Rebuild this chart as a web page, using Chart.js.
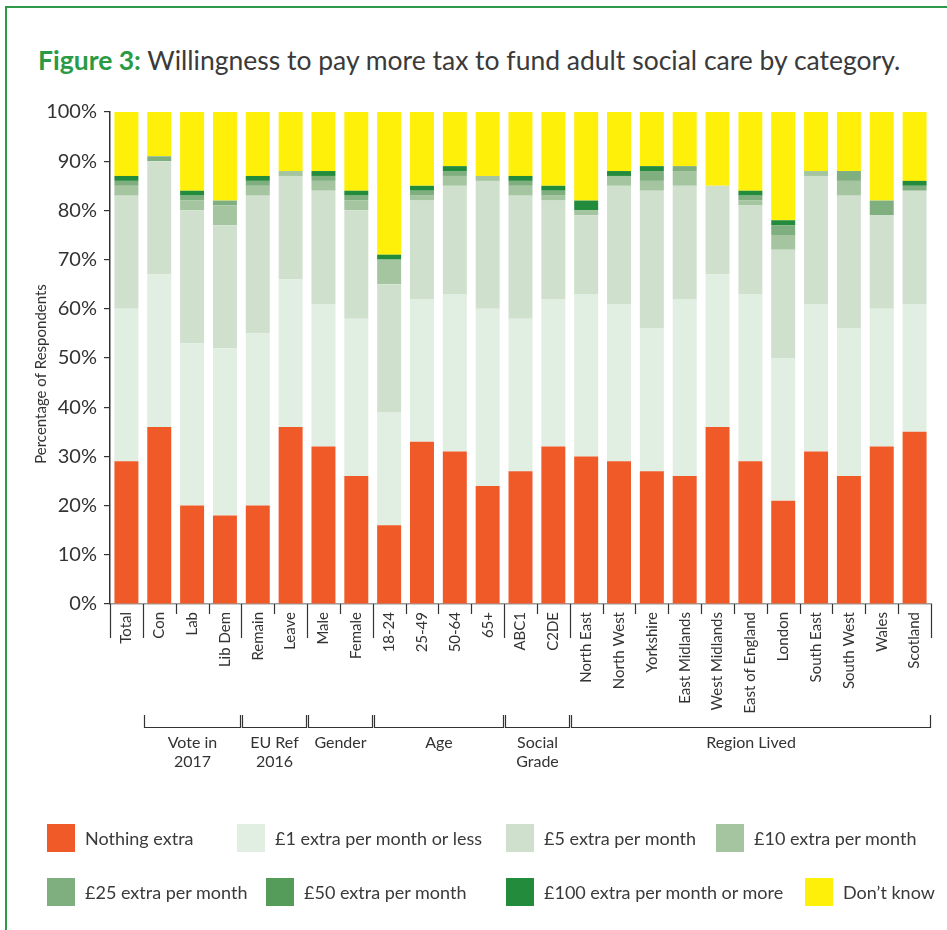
<!DOCTYPE html>
<html>
<head>
<meta charset="utf-8">
<title>Figure 3</title>
<script src="https://cdn.jsdelivr.net/npm/chart.js@4"></script>
<style>
  body { margin: 0; background: #fff; font-family: Lato, sans-serif; color: #3a3a3a; }
  #page { position: relative; width: 947px; height: 930px; overflow: hidden; }
  #frame { position: absolute; left: 5px; top: 6px; width: 1000px; height: 1000px;
           border-left: 2px solid #2e9a48; border-top: 2px solid #2e9a48; }
  #title { position: absolute; left: 38px; top: 44px; font-size: 26.5px; white-space: nowrap; }
  #title b { color: #2a9a44; }
  #chart { position: absolute; left: 0; top: 0; }
  .leg { position: absolute; display: flex; align-items: center; font-size: 18px; white-space: nowrap; }
  .leg .sw { width: 28px; height: 28px; margin-right: 10px; }
</style>
</head>
<body>
<div id="page">
  <div id="frame"></div>
  <div id="title"><b>Figure 3:</b> Willingness to pay more tax to fund adult social care by category.</div>
  <canvas id="chart" width="947" height="930"></canvas>
  <div id="legend"></div>
</div>
<script>
// Categories along the x axis
const categories = ["Total", "Con", "Lab", "Lib Dem", "Remain", "Leave", "Male", "Female",
  "18-24", "25-49", "50-64", "65+", "ABC1", "C2DE", "North East", "North West", "Yorkshire",
  "East Midlands", "West Midlands", "East of England", "London", "South East", "South West",
  "Wales", "Scotland"];

// Share of respondents (%) per answer
const nothingExtra = [29, 36, 20, 18, 20, 36, 32, 26, 16, 33, 31, 24, 27, 32, 30, 29, 27, 26, 36, 29, 21, 31, 26, 32, 35];
const onePound     = [31, 31, 33, 34, 35, 30, 29, 32, 23, 29, 32, 36, 31, 30, 33, 32, 29, 36, 31, 34, 29, 30, 30, 28, 26];
const fivePounds   = [23, 23, 27, 25, 28, 21, 23, 22, 26, 20, 22, 26, 25, 20, 16, 24, 28, 23, 18, 18, 22, 26, 27, 19, 23];
const tenPounds    = [2, 0, 2, 4, 2, 1, 2, 2, 5, 1, 2, 1, 2, 1, 1, 2, 2, 3, 0, 1, 3, 1, 3, 0, 0];
const twentyFive   = [1, 1, 1, 1, 1, 0, 1, 1, 0, 1, 1, 0, 1, 1, 0, 0, 2, 1, 0, 1, 2, 0, 2, 3, 1];
const fiftyPounds  = [0, 0, 0, 0, 0, 0, 0, 0, 0, 0, 0, 0, 0, 0, 0, 0, 0, 0, 0, 0, 0, 0, 0, 0, 0];
const hundredPlus  = [1, 0, 1, 0, 1, 0, 1, 1, 1, 1, 1, 0, 1, 1, 2, 1, 1, 0, 0, 1, 1, 0, 0, 0, 1];
const dontKnow     = [13, 9, 16, 18, 13, 12, 12, 16, 29, 15, 11, 13, 13, 15, 18, 12, 11, 11, 15, 16, 22, 12, 12, 18, 14];

const seriesLabels = ["Nothing extra", "£1 extra per month or less", "£5 extra per month",
  "£10 extra per month", "£25 extra per month", "£50 extra per month",
  "£100 extra per month or more", "Don’t know"];
const seriesValues = [nothingExtra, onePound, fivePounds, tenPounds, twentyFive, fiftyPounds, hundredPlus, dontKnow];
const seriesColors = ["#f05a28", "#e1eee2", "#cfe0cd", "#a4c59f", "#7fae7f", "#559c5a", "#238b3c", "#fff00a"];

// Category groups under the axis
const groupNames = [["Vote in", "2017"], ["EU Ref", "2016"], ["Gender"], ["Age"], ["Social", "Grade"], ["Region Lived"]];
const groupFirst = [1, 4, 6, 8, 12, 14];
const groupLast  = [3, 5, 7, 11, 13, 24];

const yTicks = [0, 10, 20, 30, 40, 50, 60, 70, 80, 90, 100];

const ink = "#333";

// Legend in the page, two rows
const legendLeft = [47, 237, 506, 716, 47, 266, 506, 805];
const legendTop = [824, 824, 824, 824, 878, 878, 878, 878];
const legendBox = document.getElementById("legend");
seriesLabels.forEach((label, i) => {
  const item = document.createElement("div");
  item.className = "leg";
  item.style.left = legendLeft[i] + "px";
  item.style.top = legendTop[i] + "px";
  item.innerHTML = `<span class="sw" style="background:${seriesColors[i]}"></span><span>${label}</span>`;
  legendBox.appendChild(item);
});

// Draws the boundary ticks, group brackets and the y title
const groupAxis = {
  id: "groupAxis",
  afterDraw(chart) {
    const ctx = chart.ctx;
    const x = chart.scales.x;
    const area = chart.chartArea;
    const step = (area.right - area.left) / categories.length;
    const bottom = area.bottom;

    const longEdges = [0];
    groupFirst.forEach((f, i) => { longEdges.push(f, groupLast[i] + 1); });

    ctx.save();
    ctx.strokeStyle = ink;
    ctx.lineWidth = 1.2;
    for (let k = 0; k <= categories.length; k++) {
      const px = Math.round(x.getPixelForValue(k) - step / 2) + 0.5;
      const len = longEdges.includes(k) ? 34 : 10;
      ctx.beginPath();
      ctx.moveTo(px, bottom);
      ctx.lineTo(px, bottom + len);
      ctx.stroke();
    }

    ctx.fillStyle = ink;
    ctx.font = "16px Lato";
    ctx.textAlign = "center";
    ctx.textBaseline = "middle";
    groupNames.forEach((lines, i) => {
      const x0 = Math.round(x.getPixelForValue(groupFirst[i]) - step / 2) + 1.5;
      const x1 = Math.round(x.getPixelForValue(groupLast[i]) + step / 2) - 0.5;
      const top = bottom + 111;
      const line = bottom + 123.5;
      ctx.beginPath();
      ctx.moveTo(x0, top);
      ctx.lineTo(x0, line);
      ctx.lineTo(x1, line);
      ctx.lineTo(x1, top);
      ctx.stroke();
      const cx = (x0 + x1) / 2;
      lines.forEach((t, j) => ctx.fillText(t, cx, bottom + 139 + j * 19));
    });

    ctx.translate(41, 374);
    ctx.rotate(-Math.PI / 2);
    ctx.font = "15px Lato";
    ctx.fillText("Percentage of Respondents", 0, 0);
    ctx.restore();
  }
};

const ctx = document.getElementById("chart").getContext("2d");
new Chart(ctx, {
  type: "bar",
  data: {
    labels: categories,
    datasets: seriesLabels.map((label, i) => ({
      label,
      data: seriesValues[i],
      backgroundColor: seriesColors[i],
      borderWidth: 0,
      barPercentage: 0.73,
      categoryPercentage: 1
    }))
  },
  options: {
    responsive: false,
    animation: false,
    layout: { padding: { left: 0, top: 112, right: 16, bottom: 126 } },
    plugins: {
      legend: { display: false },
      tooltip: { enabled: false }
    },
    scales: {
      x: {
        stacked: true,
        afterFit: s => { s.height = 200; },
        grid: { display: false, drawTicks: false },
        border: { color: "#9a9a9a", width: 1.5 },
        ticks: {
          autoSkip: false,
          minRotation: 90,
          maxRotation: 90,
          padding: 8,
          color: ink,
          font: { family: "Lato", size: 15 }
        }
      },
      y: {
        stacked: true,
        min: 0,
        max: 100,
        afterFit: s => { s.width = 110; },
        afterBuildTicks: s => { s.ticks = yTicks.map(v => ({ value: v })); },
        grid: { drawOnChartArea: false, tickLength: 6, color: ink, lineWidth: 1.2 },
        border: { color: ink, width: 1.5 },
        ticks: {
          padding: 7,
          color: ink,
          font: { family: "Lato", size: 20 },
          callback: v => v + "%"
        }
      }
    }
  },
  plugins: [groupAxis]
});
</script>
</body>
</html>
